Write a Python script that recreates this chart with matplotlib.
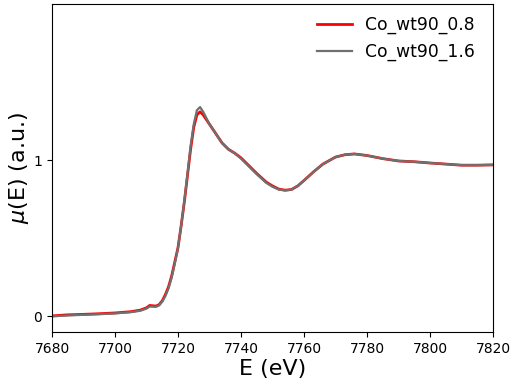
import matplotlib
matplotlib.use("Agg")
import matplotlib.pyplot as plt

energy = [7680, 7685, 7690, 7695, 7700, 7705, 7708, 7710, 7711, 7712, 7713, 7714, 7715, 7716,
          7717, 7718, 7719, 7720, 7721, 7722, 7723, 7724, 7725, 7726, 7727, 7728, 7729, 7730,
          7732, 7734, 7736, 7738, 7740, 7742, 7745, 7748, 7750, 7752, 7754, 7756, 7758, 7760,
          7763, 7766, 7770, 7773, 7776, 7780, 7785, 7790, 7795, 7800, 7805, 7810, 7815, 7820]
mu_08 = [0.003, 0.010, 0.013, 0.017, 0.022, 0.030, 0.040, 0.055, 0.070, 0.068, 0.066, 0.075, 0.10, 0.14,
         0.19, 0.26, 0.35, 0.44, 0.58, 0.73, 0.90, 1.07, 1.21, 1.29, 1.31, 1.29, 1.26, 1.23,
         1.17, 1.11, 1.07, 1.045, 1.015, 0.975, 0.915, 0.86, 0.835, 0.815, 0.808, 0.812, 0.835, 0.87,
         0.925, 0.975, 1.02, 1.035, 1.04, 1.03, 1.01, 0.995, 0.99, 0.982, 0.975, 0.968, 0.968, 0.97]
mu_16 = [0.000, 0.006, 0.010, 0.014, 0.019, 0.027, 0.036, 0.050, 0.063, 0.062, 0.061, 0.070, 0.094, 0.13,
         0.18, 0.25, 0.34, 0.44, 0.58, 0.74, 0.91, 1.09, 1.23, 1.32, 1.34, 1.31, 1.27, 1.23,
         1.17, 1.11, 1.07, 1.045, 1.01, 0.97, 0.91, 0.855, 0.83, 0.812, 0.806, 0.812, 0.835, 0.87,
         0.925, 0.975, 1.02, 1.035, 1.04, 1.03, 1.01, 0.995, 0.99, 0.982, 0.975, 0.968, 0.968, 0.97]
labels = ["Co_wt90_0.8", "Co_wt90_1.6"]

fig = plt.figure(figsize=(5.12, 3.8), dpi=100)
ax = fig.add_axes([52/512, 48/380, 441/512, 328/380])
ax.plot(energy, mu_08, color="#ff0000", lw=2.0, label=labels[0])
ax.plot(energy, mu_16, color="#707070", lw=1.6, label=labels[1])
ax.set_xlim(7680, 7820)
ax.set_ylim(-0.1, 2.0)
ax.set_yticks([0, 1])
ax.set_xticks(range(7680, 7821, 20))
ax.tick_params(labelsize=10)
ax.set_xlabel("E (eV)", fontsize=16, labelpad=2)
ax.set_ylabel(r"$\mu$(E) (a.u.)", fontsize=16, labelpad=2)
ax.legend(frameon=False, fontsize=12.3, loc="upper right", handlelength=2.0,
          bbox_to_anchor=(0.975, 0.985), borderaxespad=0.0)
fig.savefig("out.png", dpi=100)
